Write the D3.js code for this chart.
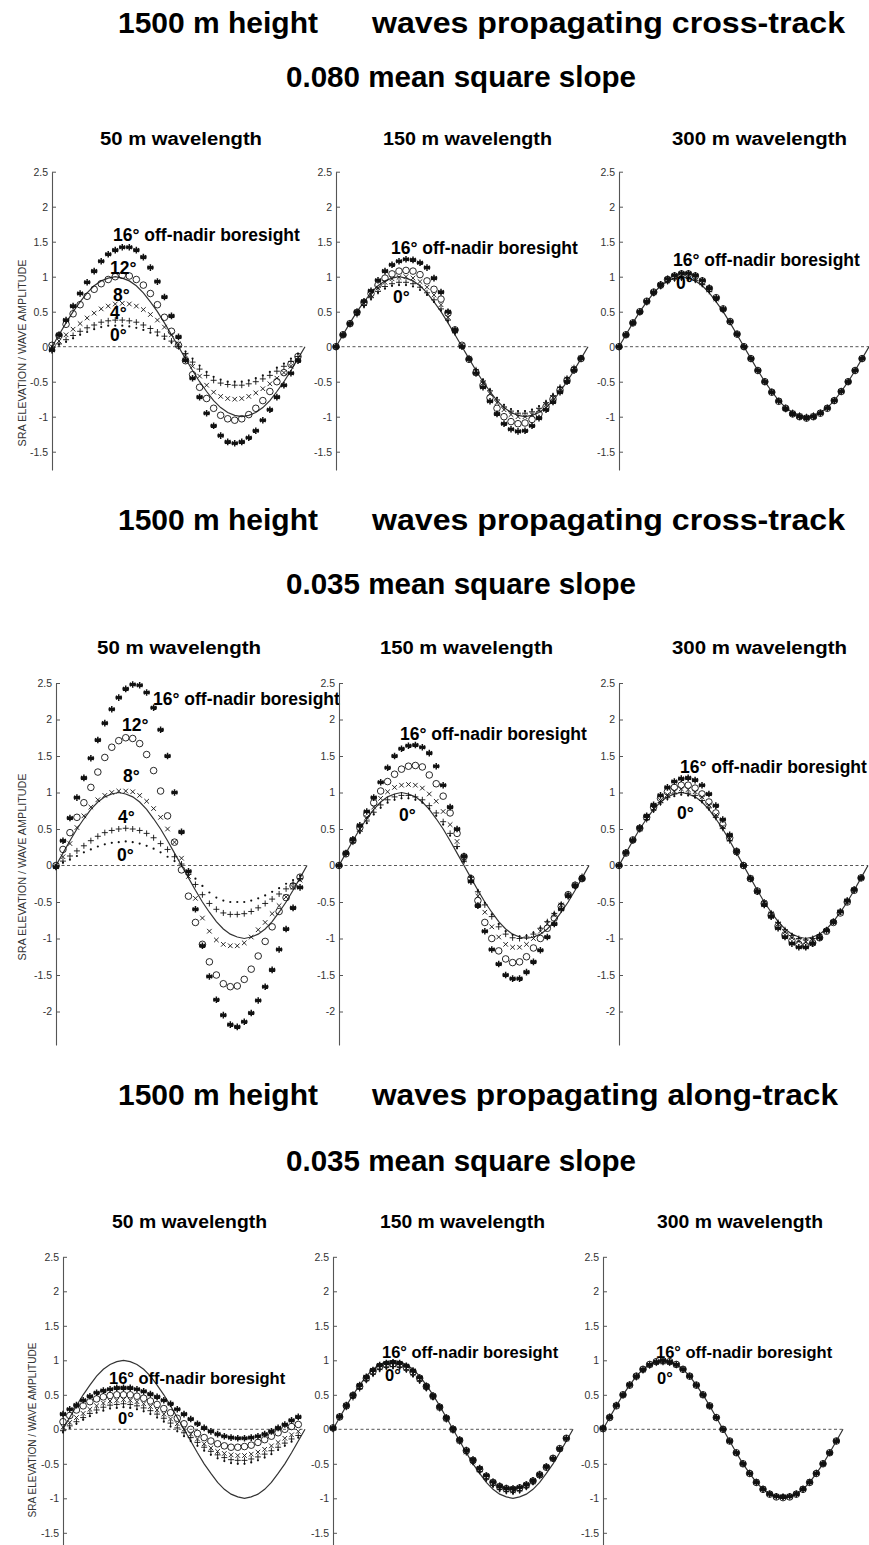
<!DOCTYPE html>
<html>
<head>
<meta charset="utf-8">
<script src="https://cdn.jsdelivr.net/npm/d3@7"></script>
<style>
  body { margin: 0; background: #fff; }
  svg { display: block; }
</style>
</head>
<body>
<svg id="chart" width="869" height="1545"></svg>
<script>
// phase along one wavelength (deg); markers use 0..350, the reference sine runs to 360
const PHASE = [0, 10, 20, 30, 40, 50, 60, 70, 80, 90, 100, 110, 120, 130, 140, 150, 160, 170, 180,
  190, 200, 210, 220, 230, 240, 250, 260, 270, 280, 290, 300, 310, 320, 330, 340, 350, 360]

// true wave surface (solid line)
const WAVE = [0, 0.17, 0.34, 0.5, 0.64, 0.77, 0.87, 0.94, 0.98, 1, 0.98, 0.94, 0.87, 0.77, 0.64, 0.5, 0.34, 0.17, 0,
  -0.17, -0.34, -0.5, -0.64, -0.77, -0.87, -0.94, -0.98, -1, -0.98, -0.94, -0.87, -0.77, -0.64, -0.5, -0.34, -0.17, 0]

const ANGLES = ['0°', '4°', '8°', '12°', '16°']
const WAVELENGTHS = ['50 m wavelength', '150 m wavelength', '300 m wavelength']
const HEIGHTS = ['1500 m height', '1500 m height', '1500 m height']
const DIRECTIONS = ['waves propagating cross-track', 'waves propagating cross-track', 'waves propagating along-track']
const SLOPES = ['0.080 mean square slope', '0.035 mean square slope', '0.035 mean square slope']
const Y_LABEL = 'SRA ELEVATION  /  WAVE AMPLITUDE'
const NOTE = '16° off-nadir boresight'

const TICKS_1 = [-1.5, -1, -0.5, 0, 0.5, 1, 1.5, 2, 2.5]
const TICKS_2 = [-2, -1.5, -1, -0.5, 0, 0.5, 1, 1.5, 2, 2.5]
const TICKS_3 = [-1.5, -1, -0.5, 0, 0.5, 1, 1.5, 2, 2.5]

// ---- cross-track, 0.080 mss ----
const CT080_50_A0 = [0, 0.03, 0.07, 0.12, 0.17, 0.21, 0.25, 0.28, 0.3, 0.3, 0.3, 0.29, 0.27, 0.24, 0.2, 0.16, 0.11, 0.06, 0, -0.07, -0.17, -0.27, -0.36, -0.43, -0.47, -0.5, -0.5, -0.5, -0.48, -0.45, -0.41, -0.36, -0.3, -0.24, -0.17, -0.1]
const CT080_50_A4 = [-0.02, 0.04, 0.1, 0.16, 0.22, 0.27, 0.31, 0.35, 0.37, 0.38, 0.38, 0.37, 0.35, 0.31, 0.26, 0.21, 0.15, 0.08, 0, -0.1, -0.22, -0.32, -0.41, -0.48, -0.52, -0.54, -0.55, -0.55, -0.53, -0.5, -0.46, -0.41, -0.35, -0.28, -0.21, -0.14]
const CT080_50_A8 = [0, 0.08, 0.17, 0.25, 0.33, 0.41, 0.48, 0.54, 0.58, 0.61, 0.62, 0.61, 0.58, 0.53, 0.46, 0.38, 0.28, 0.17, 0.04, -0.12, -0.28, -0.42, -0.55, -0.65, -0.71, -0.74, -0.75, -0.74, -0.71, -0.66, -0.6, -0.53, -0.45, -0.37, -0.28, -0.19]
const CT080_50_A12 = [0.02, 0.16, 0.32, 0.47, 0.6, 0.72, 0.82, 0.9, 0.96, 1, 1.02, 1.01, 0.96, 0.88, 0.76, 0.6, 0.42, 0.22, 0.02, -0.2, -0.4, -0.58, -0.74, -0.88, -0.98, -1.03, -1.05, -1.03, -0.97, -0.88, -0.77, -0.64, -0.5, -0.37, -0.25, -0.14]
const CT080_50_A16 = [-0.05, 0.17, 0.38, 0.58, 0.76, 0.92, 1.08, 1.22, 1.32, 1.38, 1.42, 1.42, 1.38, 1.28, 1.13, 0.93, 0.71, 0.44, 0.14, -0.19, -0.45, -0.72, -0.95, -1.13, -1.27, -1.36, -1.38, -1.36, -1.3, -1.2, -1.05, -0.9, -0.72, -0.55, -0.38, -0.2]

const CT080_150_A0 = [0, 0.16, 0.31, 0.45, 0.57, 0.68, 0.77, 0.83, 0.87, 0.88, 0.88, 0.86, 0.81, 0.74, 0.64, 0.52, 0.37, 0.19, 0.01, -0.16, -0.32, -0.47, -0.61, -0.73, -0.83, -0.89, -0.92, -0.92, -0.9, -0.85, -0.78, -0.68, -0.57, -0.44, -0.3, -0.15]
const CT080_150_A4 = [0, 0.17, 0.32, 0.46, 0.59, 0.7, 0.79, 0.86, 0.9, 0.92, 0.92, 0.9, 0.85, 0.77, 0.67, 0.54, 0.38, 0.2, 0.01, -0.16, -0.33, -0.49, -0.63, -0.76, -0.86, -0.92, -0.95, -0.95, -0.93, -0.88, -0.8, -0.7, -0.58, -0.45, -0.3, -0.16]
const CT080_150_A8 = [0, 0.17, 0.33, 0.48, 0.62, 0.74, 0.84, 0.92, 0.97, 0.99, 1, 0.98, 0.93, 0.85, 0.74, 0.6, 0.42, 0.23, 0.02, -0.17, -0.35, -0.52, -0.67, -0.8, -0.9, -0.97, -1, -1, -0.97, -0.91, -0.83, -0.73, -0.6, -0.46, -0.31, -0.16]
const CT080_150_A12 = [0, 0.17, 0.33, 0.49, 0.63, 0.76, 0.88, 0.98, 1.04, 1.08, 1.09, 1.08, 1.03, 0.94, 0.82, 0.68, 0.48, 0.24, 0.02, -0.18, -0.37, -0.55, -0.73, -0.88, -1, -1.07, -1.1, -1.09, -1.04, -0.96, -0.86, -0.75, -0.62, -0.48, -0.33, -0.17]
const CT080_150_A16 = [0, 0.17, 0.33, 0.5, 0.65, 0.8, 0.95, 1.08, 1.17, 1.22, 1.25, 1.24, 1.2, 1.13, 0.98, 0.78, 0.5, 0.24, 0, -0.18, -0.38, -0.58, -0.78, -0.96, -1.1, -1.18, -1.21, -1.2, -1.13, -1.02, -0.9, -0.79, -0.65, -0.5, -0.34, -0.17]

const CT080_300_A0 = [0, 0.17, 0.33, 0.48, 0.62, 0.74, 0.84, 0.91, 0.95, 0.96, 0.96, 0.93, 0.87, 0.78, 0.66, 0.51, 0.35, 0.18, 0, -0.17, -0.34, -0.5, -0.64, -0.77, -0.87, -0.94, -0.98, -1, -0.98, -0.94, -0.87, -0.77, -0.64, -0.5, -0.34, -0.17]
const CT080_300_A4 = [0, 0.17, 0.34, 0.49, 0.63, 0.76, 0.86, 0.93, 0.97, 0.98, 0.98, 0.95, 0.89, 0.79, 0.67, 0.52, 0.35, 0.18, 0, -0.17, -0.34, -0.5, -0.64, -0.77, -0.87, -0.94, -0.98, -1, -0.98, -0.94, -0.87, -0.77, -0.64, -0.5, -0.34, -0.17]
const CT080_300_A8 = [0, 0.17, 0.34, 0.5, 0.64, 0.77, 0.87, 0.94, 0.99, 1, 1, 0.97, 0.91, 0.81, 0.68, 0.53, 0.36, 0.18, 0, -0.17, -0.34, -0.5, -0.65, -0.77, -0.88, -0.95, -0.99, -1.01, -0.99, -0.94, -0.87, -0.77, -0.64, -0.5, -0.34, -0.17]
const CT080_300_A12 = [0, 0.17, 0.34, 0.5, 0.65, 0.78, 0.88, 0.96, 1.01, 1.04, 1.04, 1.01, 0.94, 0.83, 0.7, 0.54, 0.36, 0.18, 0, -0.17, -0.34, -0.5, -0.65, -0.78, -0.88, -0.96, -1, -1.02, -1, -0.95, -0.88, -0.77, -0.64, -0.5, -0.34, -0.17]
const CT080_300_A16 = [0, 0.17, 0.34, 0.5, 0.65, 0.78, 0.89, 0.97, 1.02, 1.05, 1.05, 1.02, 0.95, 0.84, 0.7, 0.54, 0.36, 0.18, 0, -0.17, -0.34, -0.5, -0.65, -0.78, -0.89, -0.96, -1, -1.02, -1, -0.95, -0.88, -0.77, -0.64, -0.5, -0.34, -0.17]

// ---- cross-track, 0.035 mss ----
const CT035_50_A0 = [0, 0.04, 0.08, 0.13, 0.18, 0.22, 0.26, 0.29, 0.31, 0.32, 0.33, 0.32, 0.3, 0.27, 0.23, 0.18, 0.12, 0.06, 0, -0.08, -0.18, -0.28, -0.37, -0.44, -0.48, -0.5, -0.5, -0.5, -0.48, -0.45, -0.41, -0.36, -0.31, -0.25, -0.2, -0.14]
const CT035_50_A4 = [-0.02, 0.06, 0.13, 0.2, 0.27, 0.34, 0.4, 0.45, 0.48, 0.5, 0.51, 0.5, 0.48, 0.44, 0.38, 0.3, 0.22, 0.12, 0.02, -0.12, -0.26, -0.4, -0.52, -0.6, -0.65, -0.67, -0.67, -0.66, -0.63, -0.58, -0.52, -0.46, -0.39, -0.32, -0.25, -0.18]
const CT035_50_A8 = [0, 0.12, 0.3, 0.52, 0.68, 0.8, 0.9, 0.96, 1, 1.02, 1.02, 1.01, 0.96, 0.88, 0.78, 0.66, 0.5, 0.32, 0.1, -0.15, -0.45, -0.72, -0.9, -1.02, -1.08, -1.1, -1.1, -1.06, -0.98, -0.88, -0.78, -0.66, -0.55, -0.43, -0.3, -0.2]
const CT035_50_A12 = [0, 0.22, 0.45, 0.66, 0.86, 1.07, 1.28, 1.48, 1.62, 1.71, 1.75, 1.74, 1.67, 1.52, 1.3, 1.02, 0.68, 0.32, -0.06, -0.42, -0.78, -1.08, -1.32, -1.5, -1.62, -1.66, -1.65, -1.56, -1.42, -1.24, -1.04, -0.84, -0.63, -0.44, -0.28, -0.16]
const CT035_50_A16 = [-0.02, 0.34, 0.65, 0.93, 1.2, 1.47, 1.72, 1.95, 2.14, 2.3, 2.42, 2.48, 2.47, 2.37, 2.16, 1.86, 1.5, 1, 0.46, -0.08, -0.6, -1.1, -1.52, -1.84, -2.05, -2.18, -2.21, -2.14, -2.02, -1.85, -1.66, -1.43, -1.15, -0.87, -0.58, -0.3]

const CT035_150_A0 = [0, 0.16, 0.31, 0.45, 0.58, 0.7, 0.79, 0.86, 0.9, 0.92, 0.92, 0.9, 0.86, 0.78, 0.68, 0.56, 0.41, 0.24, 0.05, -0.15, -0.34, -0.51, -0.67, -0.8, -0.9, -0.95, -0.97, -0.96, -0.92, -0.85, -0.76, -0.65, -0.52, -0.39, -0.26, -0.14]
const CT035_150_A4 = [0, 0.16, 0.32, 0.47, 0.61, 0.73, 0.83, 0.9, 0.94, 0.96, 0.96, 0.94, 0.9, 0.82, 0.72, 0.6, 0.44, 0.26, 0.06, -0.16, -0.36, -0.54, -0.7, -0.84, -0.94, -0.99, -1, -0.98, -0.94, -0.86, -0.77, -0.66, -0.53, -0.39, -0.26, -0.15]
const CT035_150_A8 = [0, 0.17, 0.34, 0.5, 0.66, 0.8, 0.92, 1.01, 1.07, 1.1, 1.11, 1.1, 1.06, 0.98, 0.88, 0.74, 0.56, 0.33, 0.08, -0.18, -0.42, -0.64, -0.84, -0.98, -1.08, -1.12, -1.12, -1.08, -1, -0.9, -0.8, -0.68, -0.54, -0.4, -0.27, -0.16]
const CT035_150_A12 = [0, 0.16, 0.34, 0.52, 0.7, 0.86, 1.02, 1.15, 1.25, 1.32, 1.36, 1.37, 1.35, 1.24, 1.12, 0.95, 0.72, 0.44, 0.12, -0.18, -0.48, -0.78, -1, -1.17, -1.28, -1.33, -1.32, -1.25, -1.13, -1, -0.86, -0.72, -0.56, -0.4, -0.27, -0.18]
const CT035_150_A16 = [0, 0.17, 0.36, 0.55, 0.74, 0.93, 1.14, 1.34, 1.5, 1.6, 1.64, 1.65, 1.62, 1.54, 1.36, 1.1, 0.8, 0.5, 0.13, -0.22, -0.55, -0.9, -1.15, -1.35, -1.5, -1.55, -1.55, -1.46, -1.32, -1.16, -0.98, -0.8, -0.6, -0.42, -0.28, -0.18]

const CT035_300_A0 = [0, 0.17, 0.33, 0.48, 0.62, 0.74, 0.84, 0.91, 0.95, 0.97, 0.96, 0.93, 0.87, 0.77, 0.65, 0.5, 0.34, 0.17, 0, -0.17, -0.34, -0.5, -0.64, -0.77, -0.87, -0.94, -0.99, -1.01, -0.99, -0.94, -0.87, -0.77, -0.64, -0.5, -0.34, -0.17]
const CT035_300_A4 = [0, 0.17, 0.34, 0.49, 0.63, 0.76, 0.86, 0.93, 0.98, 1, 0.99, 0.96, 0.89, 0.79, 0.66, 0.51, 0.34, 0.17, 0, -0.17, -0.34, -0.5, -0.65, -0.78, -0.88, -0.96, -1, -1.02, -1, -0.95, -0.88, -0.77, -0.64, -0.5, -0.34, -0.17]
const CT035_300_A8 = [0, 0.17, 0.34, 0.5, 0.65, 0.78, 0.89, 0.97, 1.02, 1.05, 1.04, 1.01, 0.94, 0.83, 0.69, 0.53, 0.36, 0.18, 0, -0.17, -0.35, -0.51, -0.66, -0.8, -0.91, -0.99, -1.04, -1.05, -1.03, -0.97, -0.89, -0.78, -0.65, -0.5, -0.34, -0.17]
const CT035_300_A12 = [0, 0.17, 0.35, 0.51, 0.66, 0.8, 0.92, 1.01, 1.07, 1.1, 1.1, 1.06, 0.98, 0.87, 0.72, 0.56, 0.38, 0.19, 0, -0.18, -0.35, -0.52, -0.68, -0.83, -0.95, -1.03, -1.08, -1.1, -1.06, -0.99, -0.9, -0.78, -0.65, -0.5, -0.34, -0.17]
const CT035_300_A16 = [0, 0.18, 0.35, 0.52, 0.68, 0.83, 0.96, 1.07, 1.15, 1.19, 1.2, 1.17, 1.1, 0.98, 0.82, 0.63, 0.42, 0.2, 0, -0.18, -0.36, -0.54, -0.7, -0.86, -0.98, -1.07, -1.12, -1.12, -1.07, -0.99, -0.89, -0.77, -0.63, -0.48, -0.33, -0.17]

// ---- along-track, 0.035 mss ----
const AT035_50_A0 = [-0.04, 0.02, 0.08, 0.14, 0.19, 0.24, 0.27, 0.3, 0.31, 0.32, 0.31, 0.29, 0.26, 0.22, 0.17, 0.11, 0.04, -0.03, -0.1, -0.17, -0.24, -0.31, -0.37, -0.42, -0.46, -0.49, -0.5, -0.5, -0.48, -0.45, -0.41, -0.36, -0.3, -0.24, -0.18, -0.12]
const AT035_50_A4 = [-0.02, 0.05, 0.11, 0.17, 0.23, 0.28, 0.32, 0.35, 0.36, 0.37, 0.36, 0.34, 0.31, 0.27, 0.22, 0.16, 0.09, 0.02, -0.05, -0.12, -0.19, -0.26, -0.32, -0.37, -0.41, -0.44, -0.45, -0.45, -0.43, -0.4, -0.36, -0.31, -0.26, -0.2, -0.14, -0.09]
const AT035_50_A8 = [0.03, 0.1, 0.17, 0.23, 0.29, 0.34, 0.38, 0.41, 0.42, 0.43, 0.42, 0.4, 0.37, 0.33, 0.28, 0.22, 0.15, 0.08, 0, -0.07, -0.14, -0.21, -0.27, -0.32, -0.35, -0.37, -0.38, -0.38, -0.36, -0.33, -0.29, -0.24, -0.19, -0.13, -0.08, -0.03]
const AT035_50_A12 = [0.11, 0.2, 0.28, 0.34, 0.4, 0.44, 0.47, 0.49, 0.5, 0.5, 0.5, 0.48, 0.45, 0.41, 0.36, 0.3, 0.24, 0.16, 0.08, 0, -0.06, -0.12, -0.17, -0.21, -0.24, -0.26, -0.26, -0.25, -0.23, -0.19, -0.15, -0.1, -0.05, 0, 0.04, 0.07]
const AT035_50_A16 = [0.22, 0.29, 0.35, 0.42, 0.48, 0.53, 0.56, 0.58, 0.6, 0.6, 0.6, 0.58, 0.55, 0.51, 0.47, 0.42, 0.37, 0.29, 0.22, 0.15, 0.08, 0.02, -0.03, -0.07, -0.1, -0.12, -0.13, -0.13, -0.12, -0.1, -0.07, -0.03, 0.02, 0.07, 0.13, 0.18]

const AT035_150_A0 = [0, 0.16, 0.31, 0.45, 0.58, 0.69, 0.78, 0.85, 0.88, 0.89, 0.88, 0.84, 0.77, 0.68, 0.57, 0.44, 0.29, 0.13, -0.03, -0.19, -0.35, -0.5, -0.63, -0.74, -0.83, -0.89, -0.92, -0.93, -0.91, -0.86, -0.79, -0.69, -0.57, -0.44, -0.3, -0.15]
const AT035_150_A4 = [0, 0.17, 0.32, 0.46, 0.59, 0.71, 0.8, 0.87, 0.9, 0.91, 0.9, 0.86, 0.79, 0.7, 0.59, 0.46, 0.3, 0.14, -0.02, -0.18, -0.34, -0.48, -0.61, -0.72, -0.81, -0.87, -0.9, -0.91, -0.89, -0.84, -0.77, -0.68, -0.56, -0.43, -0.29, -0.14]
const AT035_150_A8 = [0.01, 0.18, 0.33, 0.48, 0.61, 0.73, 0.82, 0.89, 0.92, 0.93, 0.92, 0.88, 0.81, 0.72, 0.61, 0.47, 0.31, 0.15, -0.01, -0.17, -0.33, -0.47, -0.59, -0.7, -0.79, -0.85, -0.88, -0.89, -0.87, -0.82, -0.76, -0.67, -0.55, -0.43, -0.29, -0.14]
const AT035_150_A12 = [0.02, 0.18, 0.34, 0.49, 0.62, 0.74, 0.84, 0.91, 0.94, 0.95, 0.94, 0.9, 0.83, 0.74, 0.62, 0.48, 0.32, 0.16, 0, -0.16, -0.31, -0.45, -0.58, -0.68, -0.77, -0.83, -0.86, -0.87, -0.85, -0.81, -0.75, -0.66, -0.55, -0.42, -0.28, -0.13]
const AT035_150_A16 = [0.02, 0.19, 0.35, 0.5, 0.64, 0.76, 0.86, 0.93, 0.96, 0.97, 0.96, 0.92, 0.85, 0.75, 0.63, 0.49, 0.33, 0.17, 0.01, -0.15, -0.3, -0.44, -0.56, -0.67, -0.76, -0.82, -0.85, -0.86, -0.84, -0.8, -0.74, -0.65, -0.54, -0.42, -0.28, -0.13]

const AT035_300_A0 = [0, 0.17, 0.33, 0.48, 0.62, 0.74, 0.84, 0.91, 0.95, 0.96, 0.95, 0.92, 0.86, 0.76, 0.64, 0.5, 0.34, 0.17, 0, -0.17, -0.34, -0.49, -0.63, -0.75, -0.85, -0.92, -0.96, -0.97, -0.96, -0.92, -0.85, -0.75, -0.63, -0.49, -0.34, -0.17]
const AT035_300_A4 = [0, 0.17, 0.34, 0.49, 0.63, 0.75, 0.85, 0.92, 0.96, 0.97, 0.96, 0.93, 0.86, 0.77, 0.64, 0.5, 0.34, 0.17, 0, -0.17, -0.34, -0.49, -0.63, -0.76, -0.86, -0.93, -0.97, -0.98, -0.97, -0.93, -0.86, -0.76, -0.63, -0.49, -0.34, -0.17]
const AT035_300_A8 = [0, 0.17, 0.34, 0.5, 0.64, 0.76, 0.86, 0.93, 0.97, 0.98, 0.97, 0.93, 0.87, 0.77, 0.64, 0.5, 0.34, 0.17, 0, -0.17, -0.34, -0.5, -0.64, -0.76, -0.86, -0.93, -0.97, -0.98, -0.97, -0.93, -0.86, -0.76, -0.64, -0.5, -0.34, -0.17]
const AT035_300_A12 = [0.01, 0.17, 0.34, 0.5, 0.64, 0.77, 0.87, 0.94, 0.98, 0.99, 0.98, 0.94, 0.87, 0.77, 0.64, 0.5, 0.34, 0.17, 0, -0.17, -0.34, -0.5, -0.64, -0.77, -0.87, -0.94, -0.98, -0.99, -0.98, -0.94, -0.87, -0.77, -0.64, -0.5, -0.34, -0.17]
const AT035_300_A16 = [0.02, 0.18, 0.35, 0.5, 0.65, 0.77, 0.87, 0.94, 0.98, 1, 0.98, 0.94, 0.87, 0.77, 0.64, 0.5, 0.34, 0.17, 0, -0.17, -0.34, -0.5, -0.64, -0.77, -0.87, -0.94, -0.97, -0.98, -0.97, -0.94, -0.87, -0.77, -0.64, -0.5, -0.34, -0.17]

// panels grouped per section, series in ANGLES order
const PANELS = [
  [[CT080_50_A0, CT080_50_A4, CT080_50_A8, CT080_50_A12, CT080_50_A16],
   [CT080_150_A0, CT080_150_A4, CT080_150_A8, CT080_150_A12, CT080_150_A16],
   [CT080_300_A0, CT080_300_A4, CT080_300_A8, CT080_300_A12, CT080_300_A16]],
  [[CT035_50_A0, CT035_50_A4, CT035_50_A8, CT035_50_A12, CT035_50_A16],
   [CT035_150_A0, CT035_150_A4, CT035_150_A8, CT035_150_A12, CT035_150_A16],
   [CT035_300_A0, CT035_300_A4, CT035_300_A8, CT035_300_A12, CT035_300_A16]],
  [[AT035_50_A0, AT035_50_A4, AT035_50_A8, AT035_50_A12, AT035_50_A16],
   [AT035_150_A0, AT035_150_A4, AT035_150_A8, AT035_150_A12, AT035_150_A16],
   [AT035_300_A0, AT035_300_A4, AT035_300_A8, AT035_300_A12, AT035_300_A16]]
]
const TICKS = [TICKS_1, TICKS_2, TICKS_3]

// layout of the three sections (pixels)
const LAYOUT = [
  { titleY: 33, slopeY: 87, subY: 145,
    heightSpan: [118, 318], dirSpan: [372, 845], slopeSpan: [286, 636],
    subSpans: [[100, 262], [383, 552], [672, 847]],
    zeroY: 346.7, unit: 70, yMin: -1.76,
    plotX: [[52, 305], [336, 588], [619, 869]],
    yLabel: [22, 353, 187], noteSize: 17.5,
    notes: [[113, 241], [391, 254], [673, 266]],
    degs: [[[3, 110, 274], [2, 113, 301], [1, 110, 319], [0, 110, 341]], [[0, 393, 303]], [[0, 676, 289]]] },
  { titleY: 530, slopeY: 594, subY: 654,
    heightSpan: [118, 318], dirSpan: [372, 845], slopeSpan: [286, 636],
    subSpans: [[97, 261], [380, 553], [672, 847]],
    zeroY: 865.5, unit: 73, yMin: -2.46,
    plotX: [[56, 307], [339, 589], [619, 868]],
    yLabel: [22, 867, 187], noteSize: 17.5,
    notes: [[153, 705], [400, 740], [680, 773]],
    degs: [[[3, 122, 731], [2, 123, 782], [1, 118, 823], [0, 117, 861]], [[0, 399, 821]], [[0, 677, 819]]] },
  { titleY: 1105, slopeY: 1171, subY: 1228,
    heightSpan: [118, 318], dirSpan: [372, 838], slopeSpan: [286, 636],
    subSpans: [[112, 267], [380, 545], [657, 823]],
    zeroY: 1429.3, unit: 69, yMin: -1.75,
    plotX: [[63, 305], [333, 573], [603, 843]],
    yLabel: [32, 1430, 175], noteSize: 16.5,
    notes: [[109, 1384], [382, 1358], [656, 1358]],
    degs: [[[0, 118, 1424]], [[0, 385, 1381]], [[0, 657, 1384]]] }
]

const HEAD_FONT = '"Liberation Sans Narrow", "Arial Narrow", "Liberation Sans", Arial, sans-serif'
const BODY_FONT = '"Liberation Sans", Arial, Helvetica, sans-serif'
const INK = '#111'

// marker shapes, one per boresight angle
const MARKERS = [
  { d: 'M1.1,0A1.1,1.1 0 1,1 -1.1,0A1.1,1.1 0 1,1 1.1,0Z', fill: INK, stroke: 'none', w: 0 },
  { d: 'M-3,0H3M0,-3V3', fill: 'none', stroke: INK, w: 0.9 },
  { d: 'M-2.3,-2.3L2.3,2.3M-2.3,2.3L2.3,-2.3', fill: 'none', stroke: INK, w: 0.9 },
  { d: 'M3.3,0A3.3,3.3 0 1,1 -3.3,0A3.3,3.3 0 1,1 3.3,0Z', fill: 'none', stroke: INK, w: 0.9 },
  { d: 'M0,-3.3V3.3M-2.9,-1.65L2.9,1.65M-2.9,1.65L2.9,-1.65M-3.3,0H3.3', fill: 'none', stroke: INK, w: 1.5 }
]

const svg = d3.select('#chart')

function spanText (g, str, span, y, size, family) {
  g.append('text')
    .attr('x', span[0])
    .attr('y', y)
    .attr('textLength', span[1] - span[0])
    .attr('lengthAdjust', 'spacingAndGlyphs')
    .attr('font-family', family)
    .attr('font-weight', 'bold')
    .attr('font-size', size)
    .attr('fill', '#000')
    .text(str)
}

LAYOUT.forEach((L, si) => {
  const g = svg.append('g')

  // section headings
  spanText(g, HEIGHTS[si], L.heightSpan, L.titleY, 30, HEAD_FONT)
  spanText(g, DIRECTIONS[si], L.dirSpan, L.titleY, 30, HEAD_FONT)
  spanText(g, SLOPES[si], L.slopeSpan, L.slopeY, 30, HEAD_FONT)
  WAVELENGTHS.forEach((w, pi) => spanText(g, w, L.subSpans[pi], L.subY, 18, HEAD_FONT))

  const y = d3.scaleLinear()
    .domain([L.yMin, 2.5])
    .range([L.zeroY - L.unit * L.yMin, L.zeroY - L.unit * 2.5])

  // y label, left panel only
  g.append('text')
    .attr('transform', `translate(${L.yLabel[0]},${L.yLabel[1]}) rotate(-90)`)
    .attr('text-anchor', 'middle')
    .attr('dy', '0.35em')
    .attr('textLength', L.yLabel[2])
    .attr('lengthAdjust', 'spacingAndGlyphs')
    .attr('font-family', BODY_FONT)
    .attr('font-size', 10.5)
    .attr('fill', '#333')
    .text(Y_LABEL)

  PANELS[si].forEach((series, pi) => {
    const x = d3.scaleLinear().domain([0, 360]).range(L.plotX[pi])
    const p = g.append('g')

    // axis with inward ticks
    const ax = p.append('g')
      .attr('transform', `translate(${L.plotX[pi][0]},0)`)
      .call(d3.axisLeft(y)
        .tickValues(TICKS[si])
        .tickSize(-4)
        .tickSizeOuter(0)
        .tickPadding(4)
        .tickFormat(d => String(d)))
    ax.select('.domain').attr('stroke', '#555').attr('stroke-width', 1.1)
    ax.selectAll('.tick line').attr('stroke', '#555')
    ax.selectAll('.tick text')
      .attr('font-family', BODY_FONT)
      .attr('font-size', 10.5)
      .attr('fill', '#333')

    // zero line
    p.append('line')
      .attr('x1', x(0)).attr('x2', x(360))
      .attr('y1', y(0)).attr('y2', y(0))
      .attr('stroke', '#444')
      .attr('stroke-width', 0.9)
      .attr('stroke-dasharray', '3,2.5')

    // true wave
    p.append('path')
      .datum(WAVE)
      .attr('fill', 'none')
      .attr('stroke', '#333')
      .attr('stroke-width', 1.2)
      .attr('d', d3.line().x((d, i) => x(PHASE[i])).y(d => y(d)))

    // retrieved elevations for each boresight angle
    series.forEach((vals, ai) => {
      const m = MARKERS[ai]
      p.append('g').selectAll('path')
        .data(vals)
        .join('path')
        .attr('transform', (d, i) => `translate(${x(PHASE[i])},${y(d)})`)
        .attr('d', m.d)
        .attr('fill', m.fill)
        .attr('stroke', m.stroke)
        .attr('stroke-width', m.w)
    })

    // annotations
    p.append('text')
      .attr('x', L.notes[pi][0])
      .attr('y', L.notes[pi][1])
      .attr('font-family', BODY_FONT)
      .attr('font-weight', 'bold')
      .attr('font-size', L.noteSize)
      .text(NOTE)
    L.degs[pi].forEach(([ai, tx, ty]) => {
      p.append('text')
        .attr('x', tx)
        .attr('y', ty)
        .attr('font-family', BODY_FONT)
        .attr('font-weight', 'bold')
        .attr('font-size', L.noteSize)
        .text(ANGLES[ai])
    })
  })
})
</script>
</body>
</html>
